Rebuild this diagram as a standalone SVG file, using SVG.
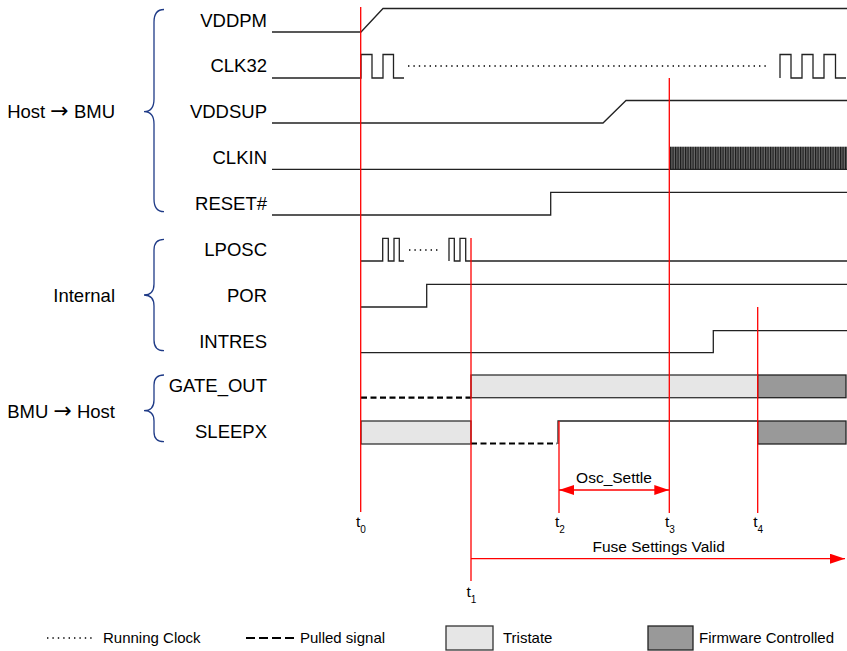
<svg xmlns="http://www.w3.org/2000/svg" width="847" height="651" viewBox="0 0 847 651">
<defs>
<style>
.lbl{font-family:"Liberation Sans",Arial,sans-serif;font-size:18.5px;fill:#000}
.arr{font-family:"DejaVu Sans",sans-serif;font-size:22px}
.ann{font-family:"Liberation Sans",Arial,sans-serif;font-size:15.5px;fill:#000}
.leg{font-family:"Liberation Sans",Arial,sans-serif;font-size:15px;fill:#000}
.sig{fill:none;stroke:#222;stroke-width:1.3}
.brace{fill:none;stroke:#1F3B87;stroke-width:1.3}
.red{stroke:#FF0000;stroke-width:1.3;fill:none}
.dash{stroke:#000;stroke-width:2.2;stroke-dasharray:6 3.5;fill:none}
.dot{stroke:#000;stroke-width:1.4;stroke-dasharray:1.4 4;fill:none}
.tri{fill:#E6E6E6;stroke:#333;stroke-width:1.3}
.fw{fill:#999;stroke:#222;stroke-width:1.3}
</style>
<marker id="ah" markerUnits="userSpaceOnUse" markerWidth="15" markerHeight="10" refX="15" refY="5" orient="auto-start-reverse">
<path d="M0,0 L15,5 L0,10 z" fill="#FF0000"/>
</marker>
<pattern id="clk" patternUnits="userSpaceOnUse" x="670" y="146.7" width="2.5" height="23">
<rect width="2.5" height="23" fill="#6a6a6a"/>
<line x1="0.6" y1="0" x2="0.6" y2="23" stroke="#1a1a1a" stroke-width="1.2"/>
</pattern>
</defs>
<rect width="847" height="651" fill="#fff"/>

<g id="groups">
<text class="lbl" x="115" y="118" text-anchor="end">Host <tspan class="arr">→</tspan> BMU</text>
<path class="brace" d="M164,9.5 Q154,9.5 154,22 L154,99 Q154,111.7 144,111.7 Q154,111.7 154,124 L154,199 Q154,211.7 164,211.7"/>
<text class="lbl" x="115" y="301.7" text-anchor="end">Internal</text>
<path class="brace" d="M164,239.3 Q154,239.3 154,250 L154,284 Q154,295 144,295 Q154,295 154,306 L154,340 Q154,350.7 164,350.7"/>
<text class="lbl" x="115" y="418.3" text-anchor="end">BMU <tspan class="arr">→</tspan> Host</text>
<path class="brace" d="M164,375 Q154,375 154,385 L154,400 Q154,410.7 144,410.7 Q154,410.7 154,421 L154,432 Q154,441.7 164,441.7"/>
</g>

<g id="VDDPM">
<text class="lbl" x="267" y="27" text-anchor="end">VDDPM</text>
<path class="sig" d="M272,32 H361 L383,8.5 H847"/>
</g>
<g id="CLK32">
<text class="lbl" x="267" y="72" text-anchor="end">CLK32</text>
<path class="sig" d="M272,78 H361 V54.5 H372 V78 H383 V54.5 H393.5 V78 H404"/>
<path class="dot" d="M408,66 H768"/>
<path class="sig" d="M780,78 V54.5 H791 V78 H802 V54.5 H813 V78 H824 V54.5 H835.5 V78 H846"/>
</g>
<g id="VDDSUP">
<text class="lbl" x="267" y="118" text-anchor="end">VDDSUP</text>
<path class="sig" d="M272,123 H603 L626,100.5 H847"/>
</g>
<g id="CLKIN">
<text class="lbl" x="267" y="164.3" text-anchor="end">CLKIN</text>
<rect x="670" y="146.7" width="177" height="22.6" fill="url(#clk)"/>
<path class="sig" d="M272,169.3 H847"/>
</g>
<g id="RESET">
<text class="lbl" x="267" y="210" text-anchor="end">RESET#</text>
<path class="sig" d="M272,215 H550.7 V192.3 H847"/>
</g>
<g id="LPOSC">
<text class="lbl" x="267" y="256" text-anchor="end">LPOSC</text>
<path class="sig" d="M361,261 H382.7 V238.3 H388.3 V261 H394 V238.3 H399.3 V261 H404"/>
<path class="dot" d="M409,250 H441"/>
<path class="sig" d="M449,261 V238.3 H454.3 V261 H460 V238.3 H465.7 V261 H847"/>
</g>
<g id="POR">
<text class="lbl" x="267" y="301.7" text-anchor="end">POR</text>
<path class="sig" d="M361,307 H426.7 V284.3 H847"/>
</g>
<g id="INTRES">
<text class="lbl" x="267" y="347.7" text-anchor="end">INTRES</text>
<path class="sig" d="M361,352.7 H713.3 V330.7 H847"/>
</g>
<g id="GATE_OUT">
<text class="lbl" x="267" y="392" text-anchor="end">GATE_OUT</text>
<path class="dash" d="M361,397.7 H471"/>
<rect class="tri" x="471" y="375" width="286.7" height="22.7"/>
<rect class="fw" x="757.7" y="375" width="88.3" height="22.7"/>
</g>
<g id="SLEEPX">
<text class="lbl" x="267" y="438.3" text-anchor="end">SLEEPX</text>
<rect class="tri" x="361" y="421" width="110" height="23"/>
<path class="dash" d="M471,443.5 H557"/>
<path class="sig" d="M558,444 V421 H757.7"/>
<rect class="fw" x="757.7" y="421" width="88.3" height="23"/>
</g>

<g id="connectors">
<path class="red" d="M360.7,7 V512"/>
<path class="red" d="M471,238 V581"/>
<path class="red" d="M559,421 V513"/>
<path class="red" d="M669.3,78 V513"/>
<path class="red" d="M757.7,307 V513"/>
<path class="red" d="M559,490 H669.3" marker-start="url(#ah)" marker-end="url(#ah)"/>
<path class="red" d="M471,558.7 H845" marker-end="url(#ah)"/>
</g>

<g id="time-labels">
<text class="ann" x="356" y="527">t<tspan font-size="10" dy="6">0</tspan></text>
<text class="ann" x="466.5" y="597">t<tspan font-size="10" dy="6">1</tspan></text>
<text class="ann" x="555" y="527">t<tspan font-size="10" dy="6">2</tspan></text>
<text class="ann" x="665" y="527">t<tspan font-size="10" dy="6">3</tspan></text>
<text class="ann" x="753.3" y="527">t<tspan font-size="10" dy="6">4</tspan></text>
<text class="ann" x="614" y="483" text-anchor="middle">Osc_Settle</text>
<text class="ann" x="658.7" y="551.7" text-anchor="middle">Fuse Settings Valid</text>
</g>

<g id="legend">
<path class="dot" d="M47,638 H92"/>
<text class="leg" x="103" y="643">Running Clock</text>
<path class="dash" d="M246,638 H295" style="stroke-dasharray:9 4"/>
<text class="leg" x="300" y="643">Pulled signal</text>
<rect class="tri" x="446" y="626" width="47" height="24"/>
<text class="leg" x="503" y="643">Tristate</text>
<rect class="fw" x="648" y="626" width="45" height="24"/>
<text class="leg" x="699" y="643">Firmware Controlled</text>
</g>
</svg>
